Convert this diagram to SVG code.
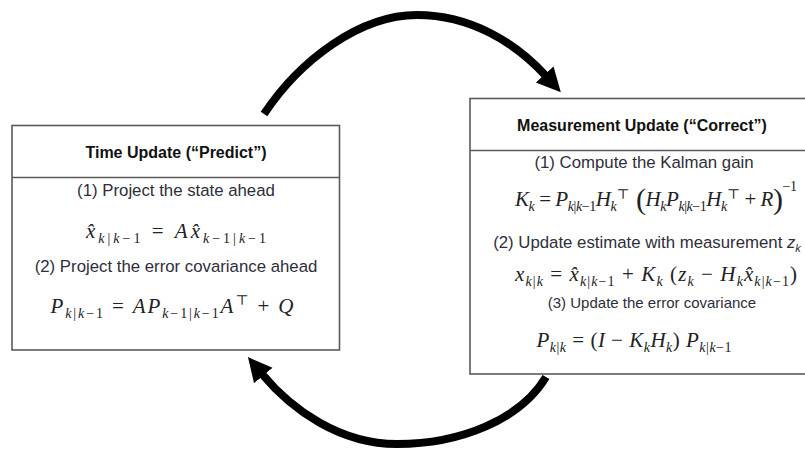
<svg xmlns="http://www.w3.org/2000/svg" width="805" height="454" viewBox="0 0 805 454">
  <style>
    .box { fill: #ffffff; stroke: #5a5a5a; stroke-width: 1.6; }
    .div { stroke: #5a5a5a; stroke-width: 1.6; }
    .title { font-family: "Liberation Sans", Arial, sans-serif; font-weight: bold; font-size: 16px; fill: #111; text-anchor: middle; }
    .lbl { font-family: "Liberation Sans", Arial, sans-serif; font-size: 16.8px; fill: #2e2e3a; text-anchor: middle; }
    .lbl-s { font-family: "Liberation Sans", Arial, sans-serif; font-size: 15px; fill: #2e2e3a; text-anchor: middle; }
    .m { font-family: "Liberation Serif", "DejaVu Serif", serif; font-size: 21px; fill: #222; text-anchor: middle; }
    .i { font-style: italic; }
    .s { font-size: 14px; }
    .big { font-size: 30px; }
    .arc { fill: none; stroke: #000; stroke-width: 8; }
  </style>
  <defs>
    <marker id="ah" markerUnits="userSpaceOnUse" markerWidth="26" markerHeight="26" viewBox="-2 -13 26 26" refX="0" refY="0" orient="auto">
      <path d="M-2,-12 L22,0 L-2,12 Z" fill="#000"/>
    </marker>
  </defs>

  <!-- cycle connectors -->
  <g id="connectors">
    <path class="arc" d="M264,114 C300,60 360,15 417,15 C470,15 515,42 546,76" marker-end="url(#ah)"/>
    <path class="arc" d="M546,377 C520,420 460,444 397,444 C340,444 292,410 262,374" marker-end="url(#ah)"/>
  </g>

  <!-- prediction step -->
  <g id="time-update">
    <rect class="box" x="12" y="125.5" width="327.5" height="224.5"/>
    <line class="div" x1="12" y1="177.5" x2="339.5" y2="177.5"/>
    <text class="title" x="176" y="158">Time Update (“Predict”)</text>
    <text class="lbl" x="176" y="196">(1) Project the state ahead</text>
    <text class="m" x="176" y="238" textLength="180" lengthAdjust="spacing"><tspan class="i">x̂</tspan><tspan class="s" dy="5"><tspan class="i">k</tspan>|<tspan class="i">k</tspan>−1</tspan><tspan dy="-5"> = </tspan><tspan class="i">A</tspan><tspan class="i">x̂</tspan><tspan class="s" dy="5"><tspan class="i">k</tspan>−1|<tspan class="i">k</tspan>−1</tspan></text>
    <text class="lbl" x="176" y="272">(2) Project the error covariance ahead</text>
    <text class="m" x="172" y="313" textLength="243" lengthAdjust="spacing"><tspan class="i">P</tspan><tspan class="s" dy="5"><tspan class="i">k</tspan>|<tspan class="i">k</tspan>−1</tspan><tspan dy="-5"> = </tspan><tspan class="i">AP</tspan><tspan class="s" dy="5"><tspan class="i">k</tspan>−1|<tspan class="i">k</tspan>−1</tspan><tspan class="i" dy="-5">A</tspan><tspan class="s" dy="-8">⊤</tspan><tspan dy="8"> + </tspan><tspan class="i">Q</tspan></text>
  </g>

  <!-- correction step -->
  <g id="measurement-update">
    <rect class="box" x="470" y="98.5" width="350" height="275.5"/>
    <line class="div" x1="470" y1="150.5" x2="820" y2="150.5"/>
    <text class="title" x="642" y="131">Measurement Update (“Correct”)</text>
    <text class="lbl" x="644" y="168">(1) Compute the Kalman gain</text>
    <text class="m" x="656" y="206" textLength="282" lengthAdjust="spacing"><tspan class="i">K</tspan><tspan class="s i" dy="5">k</tspan><tspan dy="-5"> = </tspan><tspan class="i">P</tspan><tspan class="s" dy="5"><tspan class="i">k</tspan>|<tspan class="i">k</tspan>−1</tspan><tspan class="i" dy="-5">H</tspan><tspan class="s i" dy="5">k</tspan><tspan class="s" dy="-12">⊤</tspan><tspan class="big" dy="10"> (</tspan><tspan class="i" dy="-3">H</tspan><tspan class="s i" dy="5">k</tspan><tspan class="i" dy="-5">P</tspan><tspan class="s" dy="5"><tspan class="i">k</tspan>|<tspan class="i">k</tspan>−1</tspan><tspan class="i" dy="-5">H</tspan><tspan class="s i" dy="5">k</tspan><tspan class="s" dy="-12">⊤</tspan><tspan dy="7"> + </tspan><tspan class="i">R</tspan><tspan class="big" dy="3">)</tspan><tspan class="s" dy="-18">−1</tspan></text>
    <text class="lbl" x="647" y="248">(2) Update estimate with measurement <tspan font-style="italic">z</tspan><tspan font-style="italic" font-size="11px" dy="4">k</tspan></text>
    <text class="m" x="656" y="281" textLength="282" lengthAdjust="spacing"><tspan class="i">x</tspan><tspan class="s" dy="5"><tspan class="i">k</tspan>|<tspan class="i">k</tspan></tspan><tspan dy="-5"> = </tspan><tspan class="i">x̂</tspan><tspan class="s" dy="5"><tspan class="i">k</tspan>|<tspan class="i">k</tspan>−1</tspan><tspan dy="-5"> + </tspan><tspan class="i">K</tspan><tspan class="s i" dy="5">k</tspan><tspan dy="-5"> (</tspan><tspan class="i">z</tspan><tspan class="s i" dy="5">k</tspan><tspan dy="-5"> − </tspan><tspan class="i">H</tspan><tspan class="s i" dy="5">k</tspan><tspan class="i" dy="-5">x̂</tspan><tspan class="s" dy="5"><tspan class="i">k</tspan>|<tspan class="i">k</tspan>−1</tspan><tspan dy="-5">)</tspan></text>
    <text class="lbl-s" x="652" y="308">(3) Update the error covariance</text>
    <text class="m" x="634" y="347" textLength="195" lengthAdjust="spacing"><tspan class="i">P</tspan><tspan class="s" dy="5"><tspan class="i">k</tspan>|<tspan class="i">k</tspan></tspan><tspan dy="-5"> = (</tspan><tspan class="i">I</tspan> − <tspan class="i">K</tspan><tspan class="s i" dy="5">k</tspan><tspan class="i" dy="-5">H</tspan><tspan class="s i" dy="5">k</tspan><tspan dy="-5">) </tspan><tspan class="i">P</tspan><tspan class="s" dy="5"><tspan class="i">k</tspan>|<tspan class="i">k</tspan>−1</tspan></text>
  </g>
</svg>
